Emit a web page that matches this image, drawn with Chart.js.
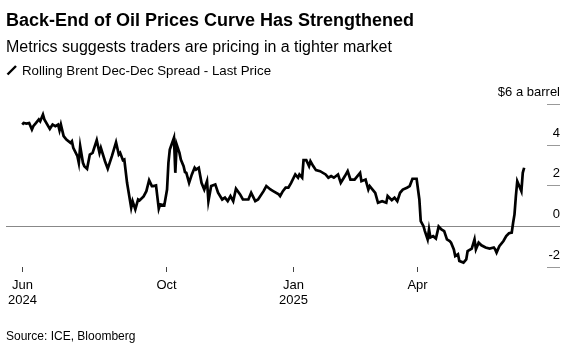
<!DOCTYPE html>
<html>
<head>
<meta charset="utf-8">
<script src="https://cdn.jsdelivr.net/npm/chart.js@4"></script>
<style>
  body { margin: 0; background: #fff; font-family: "Liberation Sans", Arial, sans-serif; }
  #wrap { position: relative; width: 575px; height: 348px; overflow: hidden; }
  canvas { position: absolute; left: 0; top: 0; }
  .txt { position: absolute; left: 6px; white-space: nowrap; color: #000; }
  #titulo { top: 10px; font-size: 18px; line-height: 21px; font-weight: bold; }
  #subtitulo { top: 38px; font-size: 16px; line-height: 18px; }
  #leyenda { top: 63px; font-size: 13.3px; line-height: 16px; }
  #leyenda svg { vertical-align: -1px; margin-right: 4px; }
  #fuente { top: 329px; font-size: 12px; line-height: 14px; }
</style>
</head>
<body>
<div id="wrap">
  <canvas id="grafica" width="575" height="348"></canvas>
  <div class="txt" id="titulo">Back-End of Oil Prices Curve Has Strengthened</div>
  <div class="txt" id="subtitulo">Metrics suggests traders are pricing in a tighter market</div>
  <div class="txt" id="leyenda"><svg width="12" height="12"><line x1="1.5" y1="10.5" x2="10" y2="2" stroke="#000" stroke-width="2.4"/></svg>Rolling Brent Dec-Dec Spread - Last Price</div>
  <div class="txt" id="fuente">Source: ICE, Bloomberg</div>
</div>
<script>
// dias desde el 19 jun 2024 y el spread en dolares por barril
const dias = [0, 1, 3, 5, 7, 8, 10, 12, 13, 15, 16, 20, 22, 24, 26, 27, 28, 30, 32, 35,
  36, 37, 40, 41, 42, 44, 45, 47, 49, 51, 54, 56, 57, 60, 62, 65, 68, 70, 71, 73,
  74, 76, 79, 80, 82, 84, 85, 88, 90, 92, 94, 95, 97, 99, 100, 103, 105, 106, 107, 110,
  111, 112, 114, 115, 117, 118, 119, 121, 123, 125, 126, 128, 130, 132, 134, 135, 137, 140, 142, 145,
  147, 149, 151, 153, 155, 158, 160, 164, 166, 169, 171, 175, 177, 180, 182, 186, 187, 189, 191, 193,
  195, 198, 200, 201, 203, 204, 206, 208, 209, 211, 213, 216, 220, 222, 224, 226, 229, 231, 234, 236,
  238, 241, 245, 246, 249, 251, 252, 256, 258, 261, 264, 265, 268, 270, 272, 274, 276, 279, 281, 283,
  285, 286, 288, 289, 291, 292, 294, 295, 296, 298, 300, 302, 304, 306, 308, 310, 311, 313, 314, 316,
  317, 320, 322, 323, 326, 328, 329, 331, 333, 336, 339, 342, 343, 344, 346, 349, 351, 353, 355, 356,
  357, 358, 359, 360, 362, 363, 364];
const spread = [4.99, 5.07, 5.04, 5.07, 4.75, 4.91, 5.07, 5.24, 5.15, 5.48, 5.24, 4.78, 4.99, 4.91, 4.99, 4.71, 4.99, 4.42, 4.25, 4.09,
  4.17, 3.85, 3.44, 3.11, 3.93, 3.11, 2.95, 2.82, 3.52, 3.60, 4.22, 3.60, 3.85, 3.19, 2.82, 3.44, 4.12, 3.52, 3.60, 3.24,
  3.27, 2.13, 0.91, 1.23, 0.82, 1.31, 1.26, 1.46, 1.72, 2.26, 1.97, 1.97, 2.00, 0.86, 1.07, 1.02, 1.80, 3.11, 3.76, 4.34,
  2.62, 4.01, 3.60, 3.27, 2.95, 2.66, 2.62, 2.13, 2.54, 2.87, 2.78, 2.87, 2.13, 1.80, 2.21, 1.23, 1.97, 2.05, 1.64, 1.31,
  1.40, 1.23, 1.48, 1.23, 1.84, 1.56, 1.31, 1.31, 1.64, 1.23, 1.31, 1.72, 1.97, 1.80, 1.72, 1.56, 1.48, 1.72, 1.89, 1.89,
  2.13, 2.54, 2.38, 2.54, 2.38, 3.24, 3.24, 2.95, 3.19, 2.95, 2.75, 2.70, 2.54, 2.38, 2.46, 2.38, 2.54, 2.13, 2.46, 2.70,
  2.29, 2.29, 2.62, 2.21, 2.29, 1.80, 1.97, 1.64, 1.15, 1.23, 1.15, 1.48, 1.28, 1.40, 1.23, 1.64, 1.80, 1.89, 1.97, 2.33,
  2.33, 2.33, 1.31, 0.25, 0.00, -0.24, -0.65, -0.16, -0.56, -0.49, -0.61, -0.02, -0.16, -0.24, -0.65, -0.73, -0.81, -1.14, -1.47, -1.38,
  -1.71, -1.79, -1.63, -1.22, -1.10, -0.65, -1.14, -0.81, -0.94, -1.05, -1.10, -1.05, -1.14, -1.30, -0.98, -0.73, -0.49, -0.35, -0.32, 0.17,
  0.58, 1.48, 2.21, 2.05, 1.72, 2.62, 2.87];

// marcas del eje x (dias desde el inicio) y sus etiquetas
const ticksX = [0, 104, 196, 286];
const etiquetasX = [['Jun', '2024'], ['Oct', ''], ['Jan', '2025'], ['Apr', '']];
// marcas del eje y
const ticksY = [-2, 0, 2, 4, 6];
const etiquetasY = ['-2', '0', '2', '4', '$6 a barrel'];

const FUENTE = '"Liberation Sans", Arial, sans-serif';

// dibuja linea del cero, marcas y etiquetas de los ejes
const ejesBloomberg = {
  id: 'ejesBloomberg',
  beforeDatasetsDraw(chart) {
    const { ctx, chartArea, scales } = chart;
    const y = scales.y;
    ctx.save();
    // linea del cero
    const y0 = Math.round(y.getPixelForValue(0)) + 0.5;
    ctx.strokeStyle = '#888';
    ctx.lineWidth = 1.2;
    ctx.beginPath();
    ctx.moveTo(chartArea.left, y0);
    ctx.lineTo(chartArea.right, y0);
    ctx.stroke();
    ctx.restore();
  },
  afterDraw(chart) {
    const { ctx, chartArea, scales } = chart;
    const x = scales.x, y = scales.y;
    ctx.save();
    // eje y: marca corta a la derecha y etiqueta encima
    ctx.font = '13px ' + FUENTE;
    ctx.fillStyle = '#000';
    ctx.textAlign = 'right';
    ctx.textBaseline = 'middle';
    ticksY.forEach((v, i) => {
      const py = Math.round(y.getPixelForValue(v)) + 0.5;
      if (v !== 0) {
        ctx.strokeStyle = '#999';
        ctx.lineWidth = 1;
        ctx.beginPath();
        ctx.moveTo(chartArea.right - 13, py);
        ctx.lineTo(chartArea.right, py);
        ctx.stroke();
      }
      ctx.fillText(etiquetasY[i], chartArea.right, py - 12);
    });
    // eje x: marca pequeña y etiquetas de dos lineas
    ctx.textAlign = 'center';
    ticksX.forEach((d, i) => {
      const px = Math.round(x.getPixelForValue(d)) + 0.5;
      ctx.strokeStyle = '#444';
      ctx.lineWidth = 1;
      ctx.beginPath();
      ctx.moveTo(px, 267);
      ctx.lineTo(px, 272);
      ctx.stroke();
      ctx.fillText(etiquetasX[i][0], px, 285.5);
      if (etiquetasX[i][1]) ctx.fillText(etiquetasX[i][1], px, 300.5);
    });
    ctx.restore();
  }
};

new Chart(document.getElementById('grafica'), {
  type: 'line',
  data: {
    datasets: [{
      label: 'Rolling Brent Dec-Dec Spread - Last Price',
      data: dias.map((d, i) => ({ x: d, y: spread[i] })),
      borderColor: '#000',
      borderWidth: 2.7,
      pointRadius: 0,
      tension: 0,
      fill: false
    }]
  },
  options: {
    responsive: false,
    animation: false,
    layout: { padding: { left: 6, right: 15, top: 104, bottom: 75 } },
    plugins: { legend: { display: false }, tooltip: { enabled: false } },
    scales: {
      x: { type: 'linear', min: -11.8, max: 390, display: false },
      y: { type: 'linear', min: -2.3, max: 6, display: false }
    }
  },
  plugins: [ejesBloomberg]
});
</script>
</body>
</html>
